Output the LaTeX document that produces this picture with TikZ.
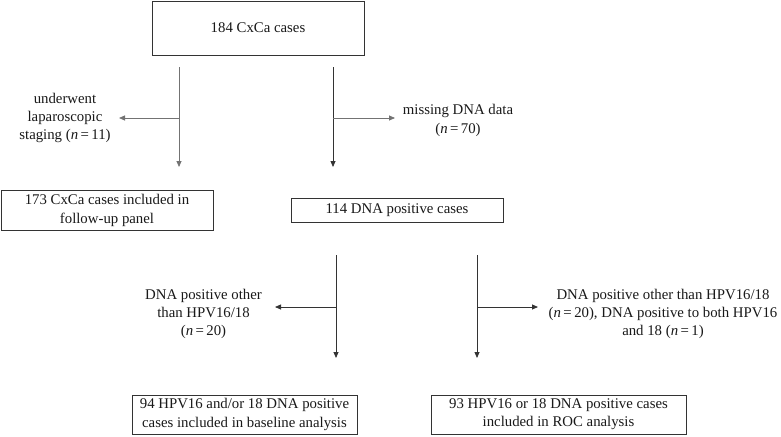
\documentclass[tikz,border=0pt]{standalone}
\usepackage{fontspec}
\setmainfont{Liberation Serif}
\usetikzlibrary{arrows.meta}
\begin{document}
\begin{tikzpicture}[x=1pt,y=-1pt,
  font=\fontsize{14.8}{18.3}\selectfont,
  box/.style={draw=black!80, line width=0.8pt, inner sep=0pt, align=center, text=black!90},
  lbl/.style={inner sep=0pt, align=center, text=black!90},
  flow/.style={draw=black!80, line width=0.8pt, -{Triangle[length=6pt,width=5pt]}},
  light/.style={draw=black!55}]
\useasboundingbox (0,0) rectangle (781,436);
\fill[white] (0,0) rectangle (781,436);
% boxes
\node[box, minimum width=212pt, minimum height=54pt] (top) at (258,28) {184 CxCa cases};
\node[box, minimum width=212pt, minimum height=40pt] (fu) at (107,210.5) {173 CxCa cases included in\\follow-up panel};
\node[box, minimum width=212pt, minimum height=24pt] (dna) at (397,210) {114 DNA positive cases};
\node[box, minimum width=225pt, minimum height=39pt] (base) at (244.5,414.5) {94 HPV16 and/or 18 DNA positive\\cases included in baseline analysis};
\node[box, minimum width=255pt, minimum height=39pt] (roc) at (558.5,414.5) {93 HPV16 or 18 DNA positive cases\\included in ROC analysis};
% labels
\node[lbl] (lap) at (65,118) {underwent\\laparoscopic\\staging (\textit{n}\,=\,11)};
\node[lbl] (miss) at (458,120.5) {missing DNA data\\(\textit{n}\,=\,70)};
\node[lbl] (oth1) at (203.5,314) {DNA positive other\\than HPV16/18\\(\textit{n}\,=\,20)};
\node[lbl] (oth2) at (663,314) {DNA positive other than HPV16/18\\(\textit{n}\,=\,20), DNA positive to both HPV16\\and 18 (\textit{n}\,=\,1)};
% coordinates
\coordinate (a1s) at (179,67); \coordinate (a1e) at (179,167); \coordinate (a1m) at (179,118); \coordinate (a1h) at (119,118);
\coordinate (a2s) at (333,67); \coordinate (a2e) at (333,167); \coordinate (a2m) at (333,118); \coordinate (a2h) at (395,118);
\coordinate (b1s) at (336,255); \coordinate (b1e) at (336,358); \coordinate (b1m) at (336,307); \coordinate (b1h) at (275,307);
\coordinate (b2s) at (477,255); \coordinate (b2e) at (477,358); \coordinate (b2m) at (477,307); \coordinate (b2h) at (538,307);
% connectors
\draw[flow, light] (a1s) -- (a1e);
\draw[flow, light] (a1m) -- (a1h);
\draw[flow] (a2s) -- (a2e);
\draw[flow, light] (a2m) -- (a2h);
\draw[flow] (b1s) -- (b1e);
\draw[flow] (b1m) -- (b1h);
\draw[flow] (b2s) -- (b2e);
\draw[flow] (b2m) -- (b2h);
\end{tikzpicture}
\end{document}
